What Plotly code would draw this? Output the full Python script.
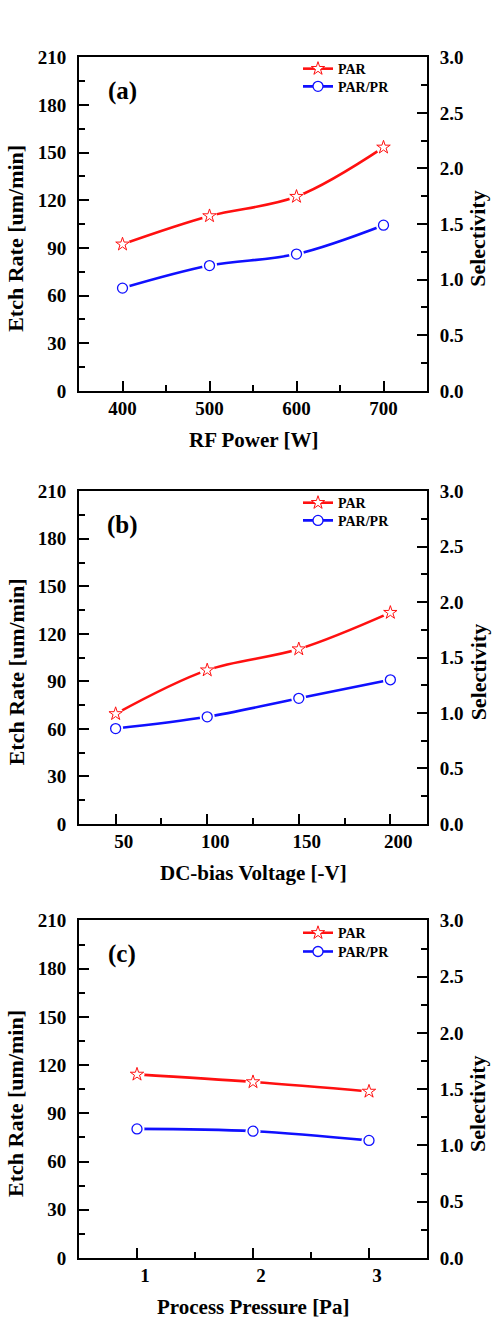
import plotly.graph_objects as go

# ---------------- data ----------------
rf_power = [400, 500, 600, 700]
rf_par = [92.3, 110.1, 122.3, 153.3]
rf_sel = [0.924, 1.127, 1.23, 1.49]

dc_bias = [50, 100, 150, 200]
dc_par = [69.5, 97.1, 110.4, 133.4]
dc_sel = [0.86, 0.966, 1.133, 1.30]

pressure = [1, 2, 3]
pr_par = [114.2, 109.5, 103.6]
pr_sel = [1.147, 1.127, 1.045]

x_titles = ["RF Power [W]", "DC-bias Voltage [-V]", "Process Pressure [Pa]"]
panel_tags = ["(a)", "(b)", "(c)"]
x_ranges = [[350, 750], [30, 220], [0.5, 3.5]]
x_ticks = [[400, 500, 600, 700], [50, 100, 150, 200], [1, 2, 3]]
x_minor = [50, 25, 0.5]
x_shift = [0, 8, 8]
series_names = ["PAR", "PAR/PR"]

W, H = 496, 1330
FONT = "Liberation Serif"
RED = "#ff1010"
BLUE = "#1010ff"

# panel pixel boxes (top, bottom)
boxes = [(48, 387), (489, 827), (925, 1268)]
legend_rows = [(60, 78), (501, 519), (938, 957)]
X0, X1 = 79, 427


def py(v):
    return 1 - v / H


def px(v):
    return v / W


fig = go.Figure()
layout = dict(
    width=W, height=H, margin=dict(l=0, r=0, t=0, b=0),
    paper_bgcolor="white", plot_bgcolor="white", showlegend=True,
)
annotations = []

data_sets = [(rf_power, rf_par, rf_sel), (dc_bias, dc_par, dc_sel), (pressure, pr_par, pr_sel)]

for i, (xs, ypar, ysel) in enumerate(data_sets):
    n = i + 1
    xid = "x" if n == 1 else f"x{n}"
    yl = f"y{2*n-1}" if 2 * n - 1 > 1 else "y"
    yr = f"y{2*n}"
    top, bot = boxes[i]

    axis_common = dict(showgrid=False, zeroline=False, showline=True, linecolor="black",
                       linewidth=2, ticks="inside", tickcolor="black", tickwidth=2,
                       tickfont=dict(family=FONT, size=19, color="black", weight="bold"))

    layout["xaxis" if n == 1 else f"xaxis{n}"] = dict(
        axis_common, domain=[px(X0), px(X1)], anchor=yl, range=x_ranges[i],
        tickmode="array", tickvals=x_ticks[i], ticklen=10, mirror=True,
        ticklabelstandoff=-1, ticklabelshift=x_shift[i],
        minor=dict(ticks="inside", dtick=x_minor[i], tick0=x_ticks[i][0], ticklen=6,
                   tickwidth=2, tickcolor="black"),
    )
    layout["yaxis" if n == 1 else f"yaxis{2*n-1}"] = dict(
        axis_common, domain=[py(bot), py(top)], anchor=xid, range=[0, 210],
        tickmode="linear", tick0=0, dtick=30, ticklen=10, ticklabelstandoff=7,
        minor=dict(ticks="inside", dtick=15, ticklen=6, tickwidth=2, tickcolor="black"),
    )
    layout[f"yaxis{2*n}"] = dict(
        axis_common, domain=[py(bot), py(top)], anchor=xid, overlaying=yl, side="right",
        range=[0, 3], tickmode="linear", tick0=0, dtick=0.5, tickformat=".1f",
        ticklen=10, ticklabelstandoff=7,
        minor=dict(ticks="inside", dtick=0.25, ticklen=6, tickwidth=2, tickcolor="black"),
    )

    for k, (ys, yaxis, color, sym, msize, mlw, name) in enumerate([
        (ypar, yl, RED, "star", 10, 1.0, series_names[0]),
        (ysel, yr, BLUE, "circle", 10, 1.3, series_names[1]),
    ]):
        lg_idx = 2 * i + k + 1
        lg = "legend" if lg_idx == 1 else f"legend{lg_idx}"
        fig.add_trace(go.Scatter(
            x=xs, y=ys, xaxis=xid, yaxis=yaxis, name=name, legend=lg,
            mode="lines+markers", line=dict(color=color, width=2.6, shape="spline"),
            marker=dict(symbol=sym, size=msize, color="white", line=dict(color=color, width=mlw)),
        ))
        fig.add_trace(go.Scatter(
            x=xs, y=ys, xaxis=xid, yaxis=yaxis, showlegend=False, hoverinfo="skip",
            mode="markers", marker=dict(symbol="circle", size=15, color="white", line=dict(width=0)),
        ))
        fig.add_trace(go.Scatter(
            x=xs, y=ys, xaxis=xid, yaxis=yaxis, showlegend=False,
            mode="markers",
            marker=dict(symbol=sym, size=msize, color="white", line=dict(color=color, width=mlw)),
        ))
        layout[lg] = dict(
            x=px(298), y=py(legend_rows[i][k]), xanchor="left", yanchor="middle",
            bgcolor="rgba(0,0,0,0)", borderwidth=0, itemwidth=30,
            font=dict(family=FONT, size=14, color="black", weight="bold"),
        )

    mid = (top + bot) / 2 + 15
    annotations.append(dict(text=panel_tags[i], x=px(122), y=py(top + 34), xref="paper", yref="paper",
                            showarrow=False, xanchor="center", yanchor="middle",
                            font=dict(family=FONT, size=25, color="black", weight="bold")))
    annotations.append(dict(text="Etch Rate [um/min]", x=px(16), y=py(mid), xref="paper", yref="paper",
                            showarrow=False, textangle=-90, xanchor="center", yanchor="middle",
                            font=dict(family=FONT, size=22, color="black", weight="bold")))
    annotations.append(dict(text="Selectivity", x=px(478), y=py(mid), xref="paper", yref="paper",
                            showarrow=False, textangle=-90, xanchor="center", yanchor="middle",
                            font=dict(family=FONT, size=22, color="black", weight="bold")))
    annotations.append(dict(text=x_titles[i], x=px(253), y=py(bot + 50), xref="paper", yref="paper",
                            showarrow=False, xanchor="center", yanchor="middle",
                            font=dict(family=FONT, size=21, color="black", weight="bold")))

layout["annotations"] = annotations
fig.update_layout(**layout)
fig.write_html("out.html")
